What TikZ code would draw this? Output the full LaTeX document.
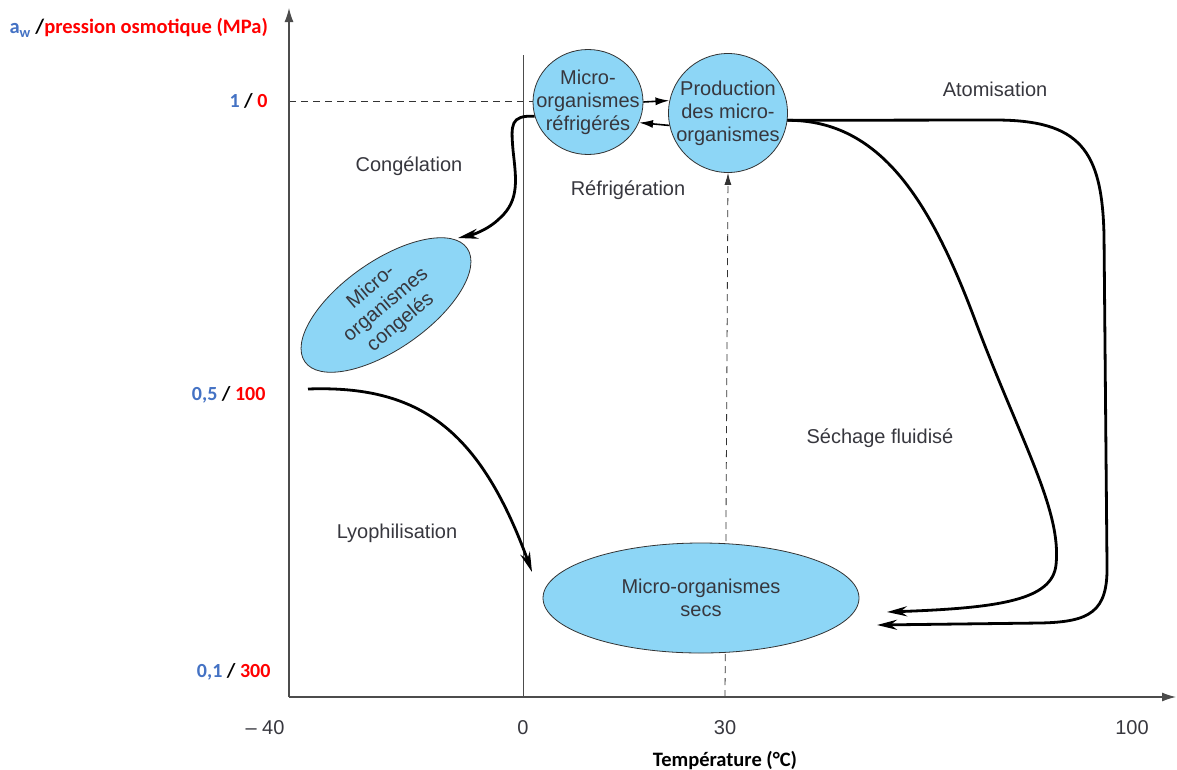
\documentclass[tikz,border=0pt]{standalone}
\usepackage{fontspec}
\setmainfont{Liberation Sans}
\newfontfamily\calib{Carlito}
\usetikzlibrary{arrows.meta,shapes.geometric,calc,backgrounds}
\definecolor{bulle}{RGB}{141,214,246}
\definecolor{awblue}{RGB}{68,114,196}
\definecolor{txtgray}{RGB}{55,55,62}
\tikzset{
  bulle/.style={draw=black!80, fill=bulle, line width=0.8pt, inner sep=0pt},
  txt/.style={text=txtgray, font=\fontsize{20}{23}\selectfont, align=center, inner sep=0pt},
  flow/.style={line width=2.8pt, -{Stealth[length=20pt,width=10pt]}},
  axe/.style={draw=black!70, line width=1.2pt},
  pointill/.style={draw=black!80, dash pattern=on 7pt off 5pt, line width=0.8pt},
  ylab/.style={font=\calib\bfseries\fontsize{20}{22}\selectfont, anchor=east},
}
\begin{document}
\begin{tikzpicture}[x=1pt,y=-1pt]
\useasboundingbox (0,0) rectangle (1177,769);
% axes
\coordinate (O) at (289,697);
\coordinate (Ytop) at (289,8);
\coordinate (Xend) at (1176,697);
\draw[axe,-{Latex[length=14pt,width=9pt]}] (O) -- (Ytop);
\draw[axe,-{Latex[length=14pt,width=9pt]}] (O) -- (Xend);
\coordinate (Z0) at (523,697);
\coordinate (Z0top) at (523,55);
\draw[black!70, line width=0.9pt] (Z0) -- (Z0top);
% bulles
\node[bulle, ellipse, minimum width=110, minimum height=105] (refr) at (588,102) {};
\node[bulle, circle, minimum size=119] (prod) at (728,113) {};
\node[bulle, ellipse, minimum width=316, minimum height=110] (secs) at (701,598) {};
\node[bulle, ellipse, minimum width=198, minimum height=88, rotate=35] (cong) at (386,305) {};
\node[txt] at (refr) {Micro-\\organismes\\réfrigérés};
\node[txt] at (prod) {Production\\des micro-\\organismes};
\node[txt] at (secs) {Micro-organismes\\secs};
\node[txt, rotate=40] at (cong) {Micro-\\organismes\\congelés};
% lignes pointillées
\coordinate (Y1) at (289,101);
\coordinate (X30) at (725,697);
\begin{scope}[on background layer]
\draw[pointill] (Y1) -- ($(refr.west |- Y1)+(4,0)$);
\draw[pointill,-{Latex[length=12pt,width=7pt]}] (X30) -- (prod.south);
\end{scope}
% échanges réfrigération
\draw[line width=1.6pt,-{Latex[length=14pt,width=8pt]}] (refr.east) -- (prod.168);
\draw[line width=1.6pt,-{Latex[length=14pt,width=8pt]}] (prod.192) -- (refr.-22);
% procédés
\draw[flow] (refr.195) .. controls (510,115) and (511,125) .. (513,150)
  .. controls (516,178) and (520,200) .. (500,218) .. controls (488,230) and (472,235) .. (458,238);
\draw[flow] (308,389) .. controls (420,385) and (480,430) .. (532,572);
\draw[flow] (prod.-7) .. controls (880,120) and (930,200) .. (975,320)
  .. controls (1020,440) and (1062,510) .. (1056,565) .. controls (1052,600) and (1000,608) .. (887,612);
\draw[flow] (prod.-7) -- (995,120) .. controls (1080,120) and (1102,150) .. (1104,235)
  -- (1107,565) .. controls (1108,612) and (1090,622) .. (1040,623) -- (877,625);
% étiquettes
\node[txt] (lcong) at (409,166) {Congélation};
\node[txt] (lrefr) at (628,190) {Réfrigération};
\node[txt] (latom) at (995,89) {Atomisation};
\node[txt] (lsech) at (880,438) {Séchage fluidisé};
\node[txt] (llyo) at (397,533) {Lyophilisation};
% graduations
\node[txt] (tm40) at (265,728) {– 40};
\node[txt] (t0) at (523,728) {0};
\node[txt] (t30) at (725,728) {30};
\node[txt] (t100) at (1132,728) {100};
\node[font=\calib\bfseries\fontsize{20.5}{22}\selectfont] (xlab) at (725,760) {Température (°C)};
\node[ylab] (y1) at (271,101) {{\color{awblue}1} / {\color{red}0}};
\node[ylab] (y05) at (269,395) {{\color{awblue}0,5} / {\color{red}100}};
\node[ylab] (y01) at (274,672) {{\color{awblue}0,1} / {\color{red}300}};
\node[ylab, anchor=west, font=\calib\bfseries\fontsize{20.5}{22}\selectfont] (ytitle) at (6,28) {{\color{awblue}a\textsubscript{w}} /{\color{red}pression osmotique (MPa)}};
\end{tikzpicture}
\end{document}
